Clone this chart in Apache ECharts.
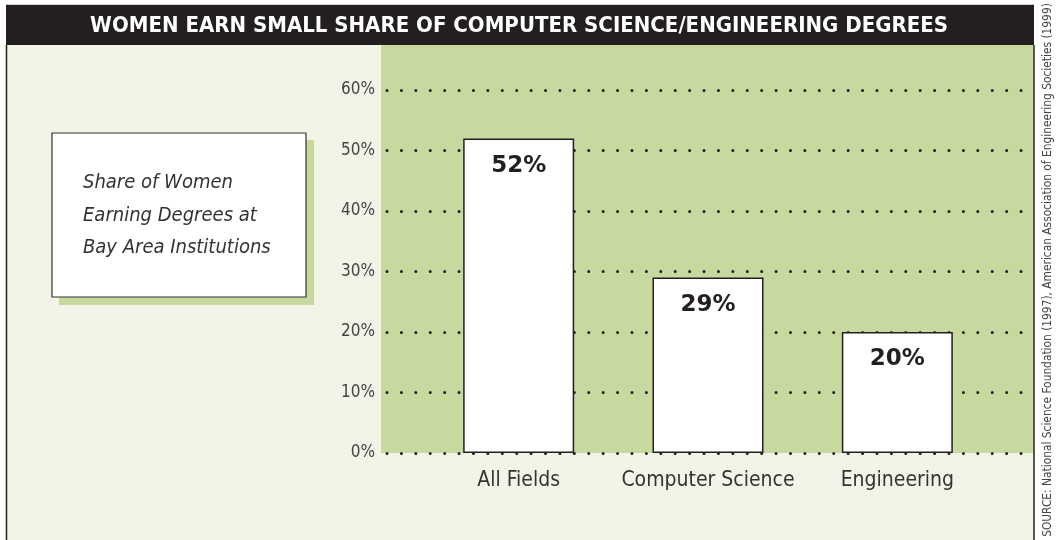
<!DOCTYPE html>
<html><head><meta charset="utf-8">
<script src="https://cdn.jsdelivr.net/npm/echarts@6/dist/echarts.min.js"></script>
<style>html,body{margin:0;padding:0;background:#fff}#c{width:1061px;height:540px}</style>
</head><body><div id="c"></div>
<script>
const categories = ['All Fields', 'Computer Science', 'Engineering'];
const shareOfWomen = [52, 29, 20];
const yTicks = [0, 10, 20, 30, 40, 50, 60];
const titleText = 'WOMEN EARN SMALL SHARE OF COMPUTER SCIENCE/ENGINEERING DEGREES';
const boxLines = ['Share of Women', 'Earning Degrees at', 'Bay Area Institutions'];
const sourceText = 'SOURCE: National Science Foundation (1997), American Association of Engineering Societies (1999)';

const NARROW = '"Liberation Sans Narrow", "DejaVu Sans Condensed", "Liberation Sans", sans-serif';
const chart = echarts.init(document.getElementById('c'), null, {renderer: 'canvas'});
const option = {
  backgroundColor: '#ffffff',
  animation: false,
  graphic: [
    {type: 'rect', z: -10, shape: {x: 6, y: 45, width: 1028, height: 500}, style: {fill: '#f2f4e7'}},
    {type: 'rect', z: -9, shape: {x: 381, y: 45, width: 652, height: 408}, style: {fill: '#c8d9a0'}},
    {type: 'rect', z: -8, shape: {x: 6, y: 5, width: 1028, height: 40}, style: {fill: '#231f20'}},
    {type: 'line', z: -8, shape: {x1: 6, y1: 4.5, x2: 1034, y2: 4.5}, style: {stroke: '#cfcfcf', lineWidth: 1}},
    {type: 'line', z: 5, shape: {x1: 6.5, y1: 45, x2: 6.5, y2: 540}, style: {stroke: '#231f20', lineWidth: 1.5}},
    {type: 'line', z: 5, shape: {x1: 1034, y1: 45, x2: 1034, y2: 540}, style: {stroke: '#231f20', lineWidth: 1.5}},
    {type: 'text', z: 6, x: 519, y: 26, style: {text: titleText, fill: '#ffffff', font: 'bold 22px ' + NARROW, align: 'center', verticalAlign: 'middle'}},
    {type: 'rect', z: 1, shape: {x: 59, y: 140, width: 255, height: 165}, style: {fill: '#c8d9a0'}},
    {type: 'rect', z: 2, shape: {x: 52, y: 133, width: 254, height: 164}, style: {fill: '#ffffff', stroke: '#333', lineWidth: 1.2}},
    {type: 'text', z: 3, x: 83, y: 183, style: {text: boxLines[0], fill: '#333', font: 'italic 20px ' + NARROW, verticalAlign: 'middle'}},
    {type: 'text', z: 3, x: 83, y: 215.5, style: {text: boxLines[1], fill: '#333', font: 'italic 20px ' + NARROW, verticalAlign: 'middle'}},
    {type: 'text', z: 3, x: 83, y: 248, style: {text: boxLines[2], fill: '#333', font: 'italic 20px ' + NARROW, verticalAlign: 'middle'}},
    {type: 'text', z: 3, x: 1048, y: 270, rotation: Math.PI / 2, scaleX: 0.91,
     style: {text: sourceText, fill: '#444', font: '13px ' + NARROW, align: 'center', verticalAlign: 'middle'}}
  ],
  grid: [
    {left: 381, right: 28, top: 90, bottom: 87},
    {left: 424, width: 568, top: 90, bottom: 87}
  ],
  xAxis: [
    {gridIndex: 0, type: 'category', data: categories, show: false},
    {gridIndex: 1, type: 'category', data: categories,
     axisLine: {show: false}, axisTick: {show: false},
     axisLabel: {interval: 0, margin: 17, color: '#333', fontFamily: NARROW, fontSize: 21}}
  ],
  yAxis: [
    {gridIndex: 0, type: 'value', min: yTicks[0], max: yTicks[yTicks.length - 1], interval: 10,
     axisLine: {show: false}, axisTick: {show: false},
     axisLabel: {formatter: '{value}%', margin: 6, color: '#444', fontFamily: NARROW, fontSize: 17}},
    {gridIndex: 1, type: 'value', min: yTicks[0], max: yTicks[yTicks.length - 1], interval: 10, show: false, splitLine: {show: false}}
  ],
  series: [{
    type: 'bar', xAxisIndex: 1, yAxisIndex: 1, data: shareOfWomen, barWidth: 111,
    itemStyle: {color: '#ffffff', borderColor: '#231f20', borderWidth: 1.5},
    label: {show: true, position: 'insideTop', distance: 16, formatter: '{c}%',
      color: '#231f20', fontWeight: 'bold', fontSize: 23, fontFamily: '"DejaVu Sans", Verdana, sans-serif'}
  }]
};
option.yAxis[0].splitLine = {show: true, lineStyle: {color: '#231f20', width: 3, cap: 'round', type: [0.01, 14.4], dashOffset: 8.4}};
chart.setOption(option);
</script></body></html>
